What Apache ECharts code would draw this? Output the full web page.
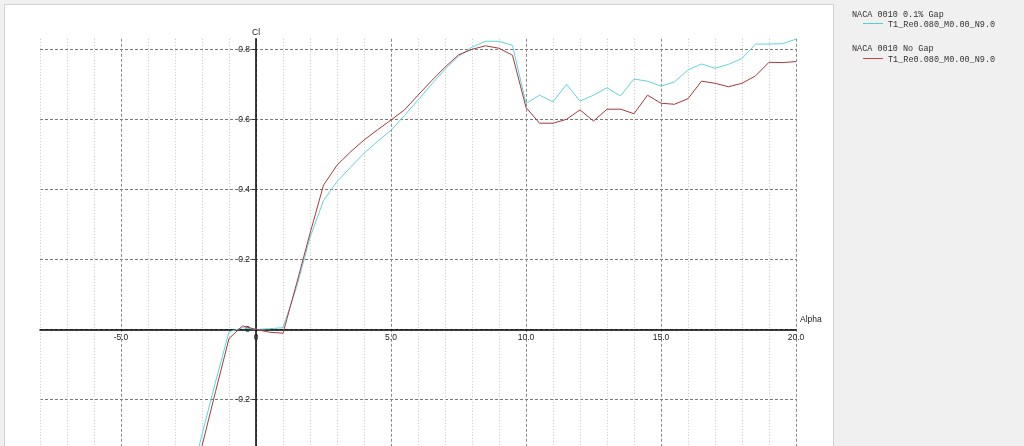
<!DOCTYPE html>
<html>
<head>
<meta charset="utf-8">
<script src="https://cdn.jsdelivr.net/npm/echarts@6/dist/echarts.min.js"></script>
<style>
  html, body { margin: 0; padding: 0; background: #f0f0f0; overflow: hidden; }
  #panel { position: absolute; left: 4px; top: 4px; width: 828px; height: 470px; background: #ffffff; border: 1px solid #d2d2d2; }
  #chart { position: absolute; left: 0; top: 0; width: 1024px; height: 446px; }
</style>
</head>
<body>
<div id="panel"></div>
<div id="chart"></div>
<script>
// Angle of attack (deg)
const alpha = [-2.5, -2, -1.5, -1, -0.5, 0, 0.5, 1, 1.5, 2, 2.5, 3, 3.5, 4, 4.5, 5, 5.5, 6, 6.5, 7, 7.5, 8, 8.5, 9, 9.5,
  10, 10.5, 11, 11.5, 12, 12.5, 13, 13.5, 14, 14.5, 15, 15.5, 16, 16.5, 17, 17.5, 18, 18.5, 19, 19.5, 20];
// NACA 0010 0.1% Gap
const clGap = [-0.46, -0.30, -0.15, -0.007, 0.005, 0.0, 0.002, 0.005, 0.12, 0.262, 0.368, 0.422, 0.463, 0.503, 0.537, 0.569, 0.611, 0.655, 0.700, 0.743, 0.780, 0.806, 0.823, 0.823, 0.811,
  0.645, 0.669, 0.650, 0.700, 0.652, 0.669, 0.690, 0.667, 0.715, 0.709, 0.695, 0.707, 0.741, 0.758, 0.746, 0.757, 0.774, 0.815, 0.815, 0.816, 0.829];
// NACA 0010 No Gap
const clNoGap = [-0.48, -0.333, -0.178, -0.026, 0.010, 0.0, -0.008, -0.011, 0.13, 0.274, 0.412, 0.469, 0.507, 0.541, 0.570, 0.598, 0.627, 0.669, 0.710, 0.749, 0.784, 0.800, 0.810, 0.803, 0.783,
  0.634, 0.589, 0.589, 0.600, 0.627, 0.595, 0.629, 0.629, 0.616, 0.669, 0.646, 0.643, 0.659, 0.709, 0.703, 0.693, 0.703, 0.724, 0.763, 0.762, 0.765];

const seriesTitles = ['NACA 0010 0.1% Gap', 'NACA 0010 No Gap'];
const seriesSub = ['T1_Re0.080_M0.00_N9.0', 'T1_Re0.080_M0.00_N9.0'];
const xName = 'Alpha';
const yName = 'Cl';

const cyan = '#5fd4dc';
const red = '#a83a3a';
const legendCyan = '#4fd0dc';
const legendRed = '#cc4545';
const T = 'rgba(0,0,0,0)';
const labelFont = { fontFamily: 'Liberation Sans', fontSize: 8.5, color: '#222' };
const monoFont = '8.5px "Liberation Mono"';

const chart = echarts.init(document.getElementById('chart'), null, { renderer: 'canvas' });

function pairs(ys) { return alpha.map((a, i) => [a, ys[i]]); }

chart.setOption({
  animation: false,
  backgroundColor: 'transparent',
  grid: { left: 40, right: 228, top: 38.8, bottom: 0, containLabel: false, outerBoundsMode: 'none' },
  xAxis: [
    {
      type: 'value', min: -8, max: 20, interval: 1, position: 'bottom', offset: -116.7,
      name: xName, nameLocation: 'end', nameGap: 4,
      nameTextStyle: { fontFamily: 'Liberation Sans', fontSize: 8.5, color: '#222', verticalAlign: 'bottom', padding: [0, 0, 5, 0] },
      axisLine: { show: true, onZero: false, lineStyle: { color: '#000', width: 1.5 } },
      axisTick: { show: false },
      axisLabel: Object.assign({ margin: 4, showMinLabel: true, showMaxLabel: true, hideOverlap: false,
        formatter: v => (Math.abs(v % 5) < 1e-9 ? (v === 0 ? '0' : v.toFixed(1)) : '') }, labelFont),
      splitLine: { show: true, lineStyle: { color: ['#c4c4c4', '#c4c4c4', '#c4c4c4', T, '#c4c4c4'], type: [1, 2], width: 1 } }
    },
    {
      type: 'value', min: -8, max: 20, interval: 1, position: 'bottom',
      axisLine: { show: false }, axisTick: { show: false }, axisLabel: { show: false },
      splitLine: { show: true, lineStyle: { color: [T, T, T, '#8a8a8a', T], type: [3, 2], width: 1 } }
    }
  ],
  yAxis: {
    type: 'value', min: -0.333, max: 0.83, minInterval: 0.2, maxInterval: 0.2,
    position: 'left', offset: -216,
    name: yName, nameLocation: 'end', nameGap: 2,
    nameTextStyle: { fontFamily: 'Liberation Sans', fontSize: 8.5, color: '#222' },
    axisLine: { show: true, onZero: false, lineStyle: { color: '#000', width: 1.5 } },
    axisTick: { show: true, length: 4, lineStyle: { color: '#333' } },
    axisLabel: Object.assign({ margin: 6, showMaxLabel: false, showMinLabel: false,
      formatter: v => (Math.abs(v) < 1e-9 ? '0' : v.toFixed(1)) }, labelFont),
    splitLine: { show: true, showMaxLine: false, showMinLine: false, lineStyle: { color: '#777', type: [3, 2], width: 1 } }
  },
  series: [
    { name: seriesTitles[0], type: 'line', xAxisIndex: 0, data: pairs(clGap), showSymbol: false, symbol: 'none',
      lineStyle: { color: cyan, width: 1 }, itemStyle: { color: cyan }, z: 3 },
    { name: seriesTitles[1], type: 'line', xAxisIndex: 0, data: pairs(clNoGap), showSymbol: false, symbol: 'none',
      lineStyle: { color: red, width: 1 }, itemStyle: { color: red }, z: 4 }
  ],
  graphic: [
    { type: 'text', x: 852, y: 15, style: { text: seriesTitles[0], font: monoFont, fill: '#333', verticalAlign: 'middle' } },
    { type: 'rect', shape: { x: 863, y: 23, width: 20, height: 1 }, style: { fill: legendCyan } },
    { type: 'text', x: 888, y: 24.5, style: { text: seriesSub[0], font: monoFont, fill: '#333', verticalAlign: 'middle' } },
    { type: 'text', x: 852, y: 48.5, style: { text: seriesTitles[1], font: monoFont, fill: '#333', verticalAlign: 'middle' } },
    { type: 'rect', shape: { x: 863, y: 58, width: 20, height: 1 }, style: { fill: legendRed } },
    { type: 'text', x: 888, y: 60, style: { text: seriesSub[1], font: monoFont, fill: '#333', verticalAlign: 'middle' } }
  ]
});
</script>
</body>
</html>
